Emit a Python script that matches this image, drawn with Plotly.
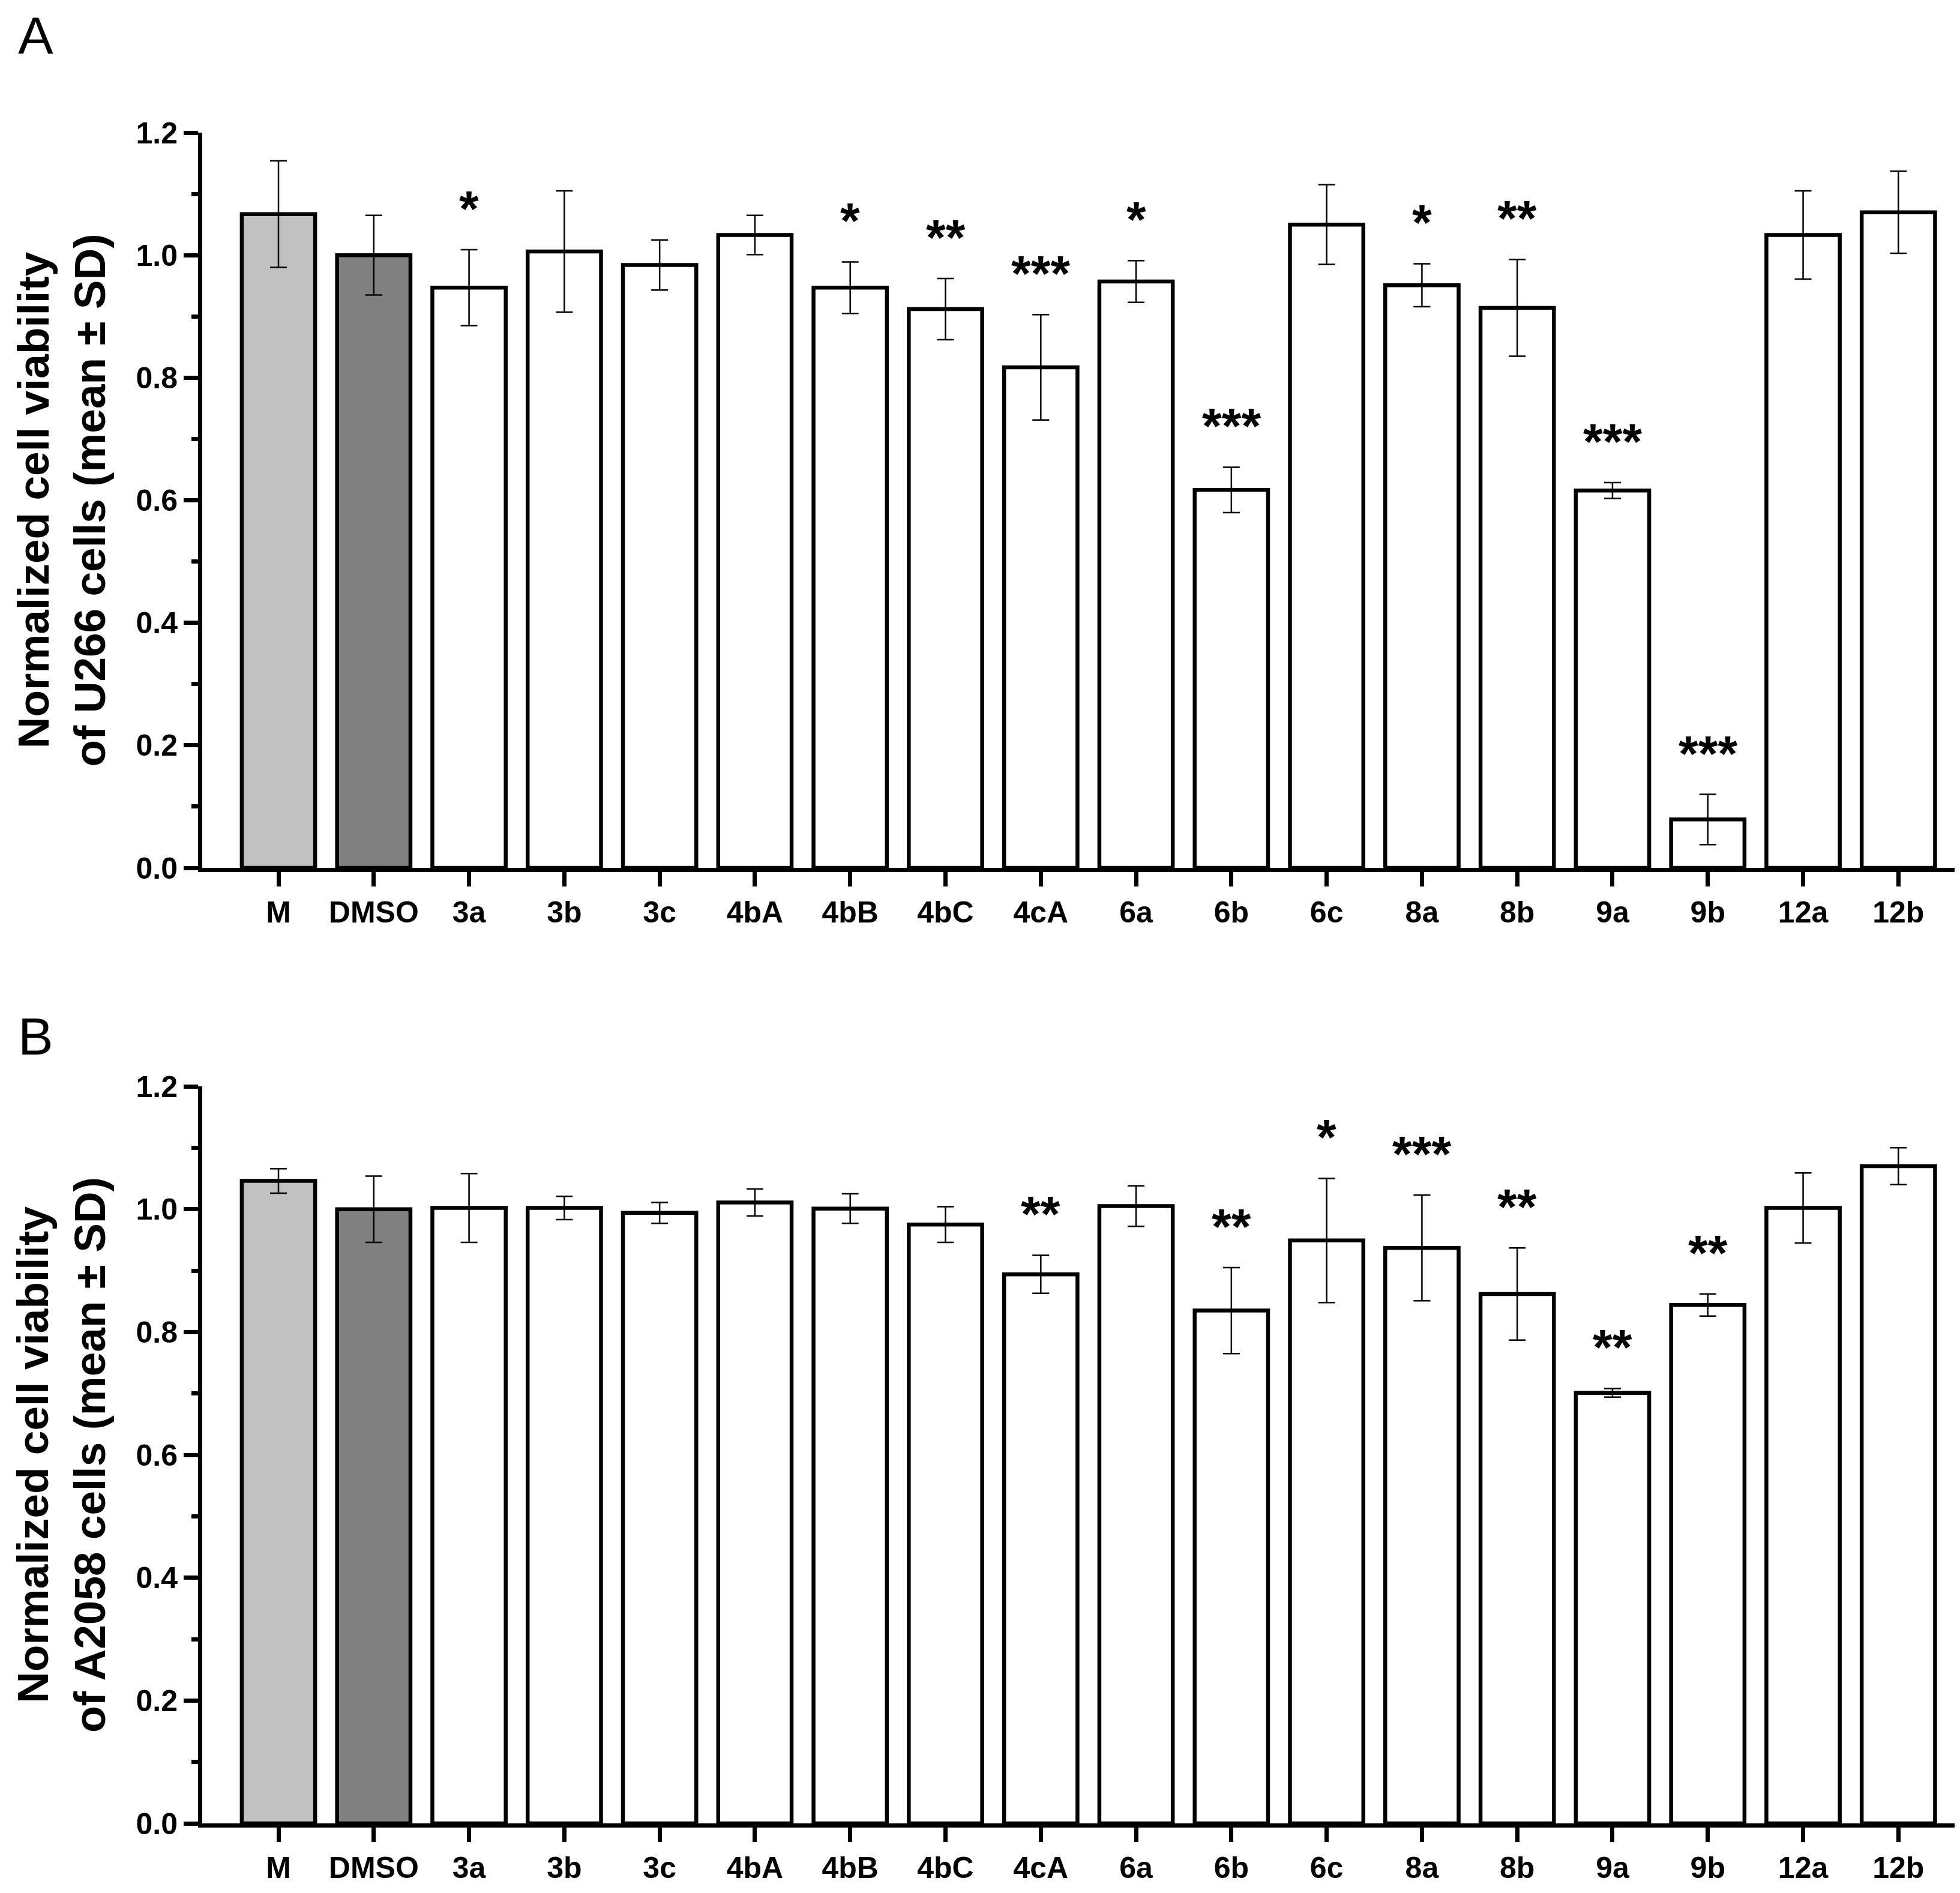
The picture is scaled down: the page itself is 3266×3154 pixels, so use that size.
import plotly.graph_objects as go

# page body has an 8px default margin; the figure is shifted by it
OFF = 8
W, H = 3266 - OFF, 3154 - OFF

categories = ["M", "DMSO", "3a", "3b", "3c", "4bA", "4bB", "4bC", "4cA",
              "6a", "6b", "6c", "8a", "8b", "9a", "9b", "12a", "12b"]

# Panel A: U266 cells
mean_a = [1.067, 1.000, 0.947, 1.006, 0.984, 1.033, 0.947, 0.912, 0.817,
          0.957, 0.617, 1.050, 0.951, 0.914, 0.616, 0.079, 1.033, 1.070]
sd_a = [0.087, 0.065, 0.062, 0.099, 0.041, 0.032, 0.042, 0.050, 0.086,
        0.034, 0.037, 0.065, 0.035, 0.079, 0.013, 0.041, 0.072, 0.067]
sig_a = ["", "", "*", "", "", "", "*", "**", "***",
         "*", "***", "", "*", "**", "***", "***", "", ""]

# Panel B: A2058 cells
mean_b = [1.046, 1.000, 1.002, 1.002, 0.994, 1.011, 1.001, 0.975, 0.894,
          1.005, 0.835, 0.949, 0.937, 0.862, 0.701, 0.844, 1.002, 1.070]
sd_b = [0.020, 0.054, 0.056, 0.019, 0.017, 0.022, 0.024, 0.029, 0.031,
        0.033, 0.070, 0.101, 0.086, 0.075, 0.007, 0.018, 0.057, 0.030]
sig_b = ["", "", "", "", "", "", "", "", "**",
         "", "**", "*", "***", "**", "**", "**", "", ""]

y_ticks = [0.0, 0.2, 0.4, 0.6, 0.8, 1.0, 1.2]

title_a = "Normalized cell viability<br>of U266 cells (mean ± SD)"
title_b = "Normalized cell viability<br>of A2058 cells (mean ± SD)"

FONT = "Liberation Sans, Arial, sans-serif"
fills = ["#c0c0c0", "#808080"] + ["#ffffff"] * (len(categories) - 2)

fig = go.Figure()


def add_panel(means, sds, xa, ya):
    fig.add_trace(go.Bar(
        x=categories, y=means, xaxis=xa, yaxis=ya,
        width=0.77,
        marker=dict(color=fills, line=dict(color="black", width=6.5)),
        error_y=dict(type="data", array=sds, visible=True,
                     color="black", thickness=2.5, width=14),
        showlegend=False,
    ))


add_panel(mean_a, sd_a, "x", "y")
add_panel(mean_b, sd_b, "x2", "y2")


def px_x(p):
    return (p - OFF) / W


def px_y(p):
    return 1 - (p - OFF) / H


x_dom = [px_x(337), px_x(3257)]
ya_dom = [px_y(1446), px_y(221)]
yb_dom = [px_y(3038), px_y(1810)]

tickfont = dict(family=FONT, size=50, color="black", weight="bold")

xaxis_common = dict(
    domain=x_dom, type="category", range=[-0.80, 17.59],
    showline=True, linecolor="black", linewidth=7,
    ticks="outside", ticklen=24, tickwidth=7, tickcolor="black",
    tickfont=tickfont, showgrid=False, zeroline=False, fixedrange=True,
)
yaxis_common = dict(
    range=[0, 1.2], tickvals=y_ticks, tickformat=".1f",
    showline=True, linecolor="black", linewidth=7,
    ticks="outside", ticklen=24, tickwidth=7, tickcolor="black",
    minor=dict(dtick=0.1, tick0=0, ticks="outside", ticklen=11,
               tickwidth=7, tickcolor="black"),
    tickfont=tickfont, showgrid=False, zeroline=False, fixedrange=True,
)

fig.update_layout(
    width=W, height=H,
    margin=dict(l=0, r=0, t=0, b=0, autoexpand=False),
    paper_bgcolor="white", plot_bgcolor="white",
    xaxis=dict(**xaxis_common, anchor="y"),
    yaxis=dict(**yaxis_common, domain=ya_dom, anchor="x"),
    xaxis2=dict(**xaxis_common, anchor="y2"),
    yaxis2=dict(**yaxis_common, domain=yb_dom, anchor="x2"),
)

annotations = []


def add_stars(means, sds, sigs, xref, yref):
    for c, m, s, g in zip(categories, means, sds, sigs):
        if g:
            annotations.append(dict(
                x=c, y=m + s, xref=xref, yref=yref, text=g,
                showarrow=False, xanchor="center", yanchor="bottom",
                yshift=19,
                font=dict(family=FONT, size=84, color="black", weight="bold"),
            ))


add_stars(mean_a, sd_a, sig_a, "x", "y")
add_stars(mean_b, sd_b, sig_b, "x2", "y2")

title_font = dict(family=FONT, size=73, color="black", weight="bold")
annotations.append(dict(
    x=px_x(102), y=(ya_dom[0] + ya_dom[1]) / 2, xref="paper", yref="paper",
    text=title_a, textangle=-90, showarrow=False,
    xanchor="center", yanchor="middle", font=title_font,
))
annotations.append(dict(
    x=px_x(102), y=(yb_dom[0] + yb_dom[1]) / 2, xref="paper", yref="paper",
    text=title_b, textangle=-90, showarrow=False,
    xanchor="center", yanchor="middle", font=title_font,
))

letter_font = dict(family=FONT, size=88, color="black")
annotations.append(dict(
    x=px_x(28), y=1, xref="paper", yref="paper", text="A",
    showarrow=False, xanchor="left", yanchor="top", font=letter_font,
))
annotations.append(dict(
    x=px_x(28), y=px_y(1726), xref="paper", yref="paper", text="B",
    showarrow=False, xanchor="left", yanchor="middle", font=letter_font,
))

fig.update_layout(annotations=annotations)

fig.write_html("out.html")
